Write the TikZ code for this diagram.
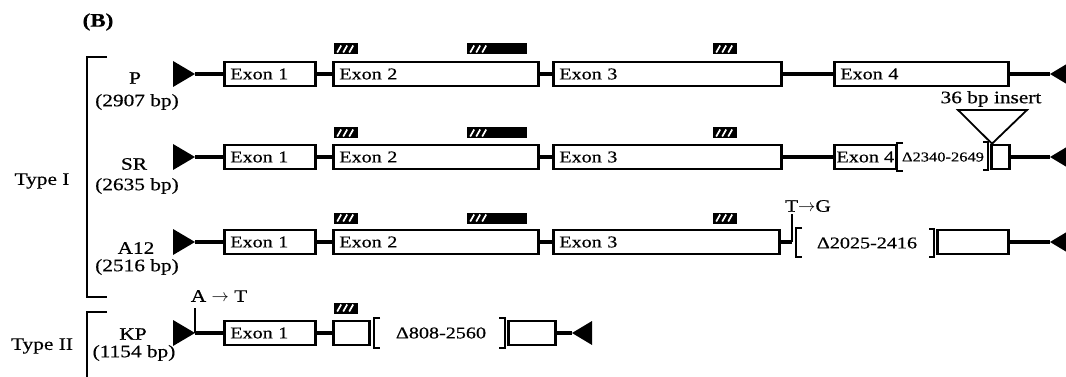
\documentclass[tikz,border=0pt]{standalone}
\usepackage{fontspec}
\setmainfont{Liberation Serif}[FakeStretch=1.22, FakeBold=0.5]
\newcommand{\labfont}{\fontsize{17.5}{20}\selectfont}
\newcommand{\exfont}{\fontsize{16.5}{18}\selectfont}
\newcommand{\delfont}{\fontsize{16.5}{18}\selectfont}

\tikzset{
	exon/.style={draw, line width=2.6pt, fill=white, anchor=west, minimum height=24pt,
		inner xsep=6pt, inner ysep=0pt, align=left, font=\exfont},
	intron/.style={line width=3.5pt},
	brk/.style={line width=2.6pt},
	motif/.style={fill=black, anchor=west, minimum width=24pt, minimum height=11pt,
		inner sep=0pt, path picture={
			\foreach \i in {0,1,2}
				\draw[white, line width=1.7pt]
					([xshift=3pt+\i*6pt, yshift=2pt]path picture bounding box.south west) -- ++(4pt,7pt);
		}},
	lbl/.style={font=\labfont, inner sep=0pt},
}

\begin{document}
\begin{tikzpicture}[x=1pt, y=-1pt]
	\useasboundingbox (0,0) rectangle (1066,377);
	\node[font=\fontsize{19}{21}\selectfont\bfseries] (B) at (98,22) {(B)};
	
	%Groups
	\draw[brk] (107,57) -- (87,57) -- (87,297) -- (107,297);
	\draw[brk] (107,312) -- (87,312) -- (87,377);
	\node[lbl] (t1) at (42,181) {Type I};
	\node[lbl] (t2) at (42,346) {Type II};
	
	%Ends
	\foreach \r/\y in {p/74,sr/157,a/242,kp/333}{
		\coordinate (\r0) at (195,\y);
		\fill (\r0) -- ++(-22,-13) -- ++(0,26) -- cycle;
	}
	\foreach \r/\x/\y in {p/1050/74,sr/1050/157,a/1050/242,kp/572/333}{
		\coordinate (\r9) at (\x,\y);
		\fill (\r9) -- ++(20,-12) -- ++(0,24) -- cycle;
	}
	
	%P
	\node[lbl] (pn) at (135,78) {P};
	\node[lbl] (pbp) at (137,102) {(2907 bp)};
	\node[exon, text width=79pt] (p1) at (223,74) {Exon 1};
	\node[exon, text width=193pt] (p2) at (332,74) {Exon 2};
	\node[exon, text width=216pt] (p3) at (552,74) {Exon 3};
	\node[exon, text width=162pt] (p4) at (833,74) {Exon 4};
	\draw[intron] (p0) -- (p1) (p1) -- (p2) (p2) -- (p3) (p3) -- (p4) (p4) -- (p9);
	\node[motif] (pm1) at (334,49) {};
	\node[motif, minimum width=60pt] (pm2) at (467,49) {};
	\node[motif] (pm3) at (713,49) {};
	
	%SR
	\node[lbl] (srn) at (134,164) {SR};
	\node[lbl] (srbp) at (137,186) {(2635 bp)};
	\node[exon, text width=79pt] (sr1) at (223,157) {Exon 1};
	\node[exon, text width=193pt] (sr2) at (332,157) {Exon 2};
	\node[exon, text width=216pt] (sr3) at (552,157) {Exon 3};
	\node[exon, minimum width=62pt, inner xsep=1pt] (sr4) at (833,157) {Exon 4};
	\draw[brk] (903,143) -- (897,143) -- (897,171) -- (903,171);
	\node[font=\fontsize{13.5}{15}\selectfont] (srdel) at (943,157) {Δ2340-2649};
	\draw[brk] (983,142) -- (988,142) -- (988,170) -- (983,170);
	\node[exon, minimum width=18pt, inner xsep=0pt] (sr5) at (990,157) {};
	\draw[intron] (sr0) -- (sr1) (sr1) -- (sr2) (sr2) -- (sr3) (sr3) -- (sr4) (sr5) -- (sr9);
	\node[motif] (srm1) at (334,133) {};
	\node[motif, minimum width=60pt] (srm2) at (467,133) {};
	\node[motif] (srm3) at (713,133) {};
	%insert
	\coordinate (insp) at ([xshift=2pt]sr5.north west);
	\draw[line width=1.8pt] (958,110) -- (1027,110) -- (insp) -- cycle;
	\node[lbl] (ins) at (991,99) {36 bp insert};
	
	%A12
	\node[lbl] (an) at (136,248) {A12};
	\node[lbl] (abp) at (137,267) {(2516 bp)};
	\node[exon, text width=79pt] (a1) at (223,242) {Exon 1};
	\node[exon, text width=193pt] (a2) at (332,242) {Exon 2};
	\node[exon, text width=214pt] (a3) at (552,242) {Exon 3};
	\coordinate (atg) at (792,242);
	\draw[intron] (a0) -- (a1) (a1) -- (a2) (a2) -- (a3) (a3) -- (atg);
	\draw[brk] (atg) -- ++(0,-28);
	\node[lbl] (amut) at (808,206) {T$\rightarrow$G};
	\draw[brk] (802,228) -- (796,228) -- (796,257) -- (802,257);
	\node[font=\delfont] (adel) at (867,243) {Δ2025-2416};
	\draw[brk] (929,229) -- (934,229) -- (934,257) -- (929,257);
	\node[exon, minimum width=71pt] (a5) at (936,242) {};
	\draw[intron] (a5) -- (a9);
	\node[motif] (am1) at (334,218) {};
	\node[motif, minimum width=60pt] (am2) at (467,218) {};
	\node[motif] (am3) at (713,218) {};
	
	%KP
	\node[lbl] (kpn) at (133,334) {KP};
	\node[lbl] (kpbp) at (134,353) {(1154 bp)};
	\draw[brk] (kp0) -- ++(0,-25);
	\node[lbl] (kpmut) at (219,296) {A $\rightarrow$ T};
	\node[exon, text width=79pt] (kp1) at (223,333) {Exon 1};
	\node[exon, minimum width=36pt] (kp2) at (332,333) {};
	\draw[brk] (380,318) -- (374,318) -- (374,348) -- (380,348);
	\node[font=\delfont] (kpdel) at (441,333) {Δ808-2560};
	\draw[brk] (499,318) -- (505,318) -- (505,348) -- (499,348);
	\node[exon, minimum width=47pt] (kp5) at (507,333) {};
	\draw[intron] (kp0) -- (kp1) (kp1) -- (kp2) (kp5) -- (kp9);
	\node[motif] (kpm1) at (334,308) {};
	
\end{tikzpicture}
\end{document}
